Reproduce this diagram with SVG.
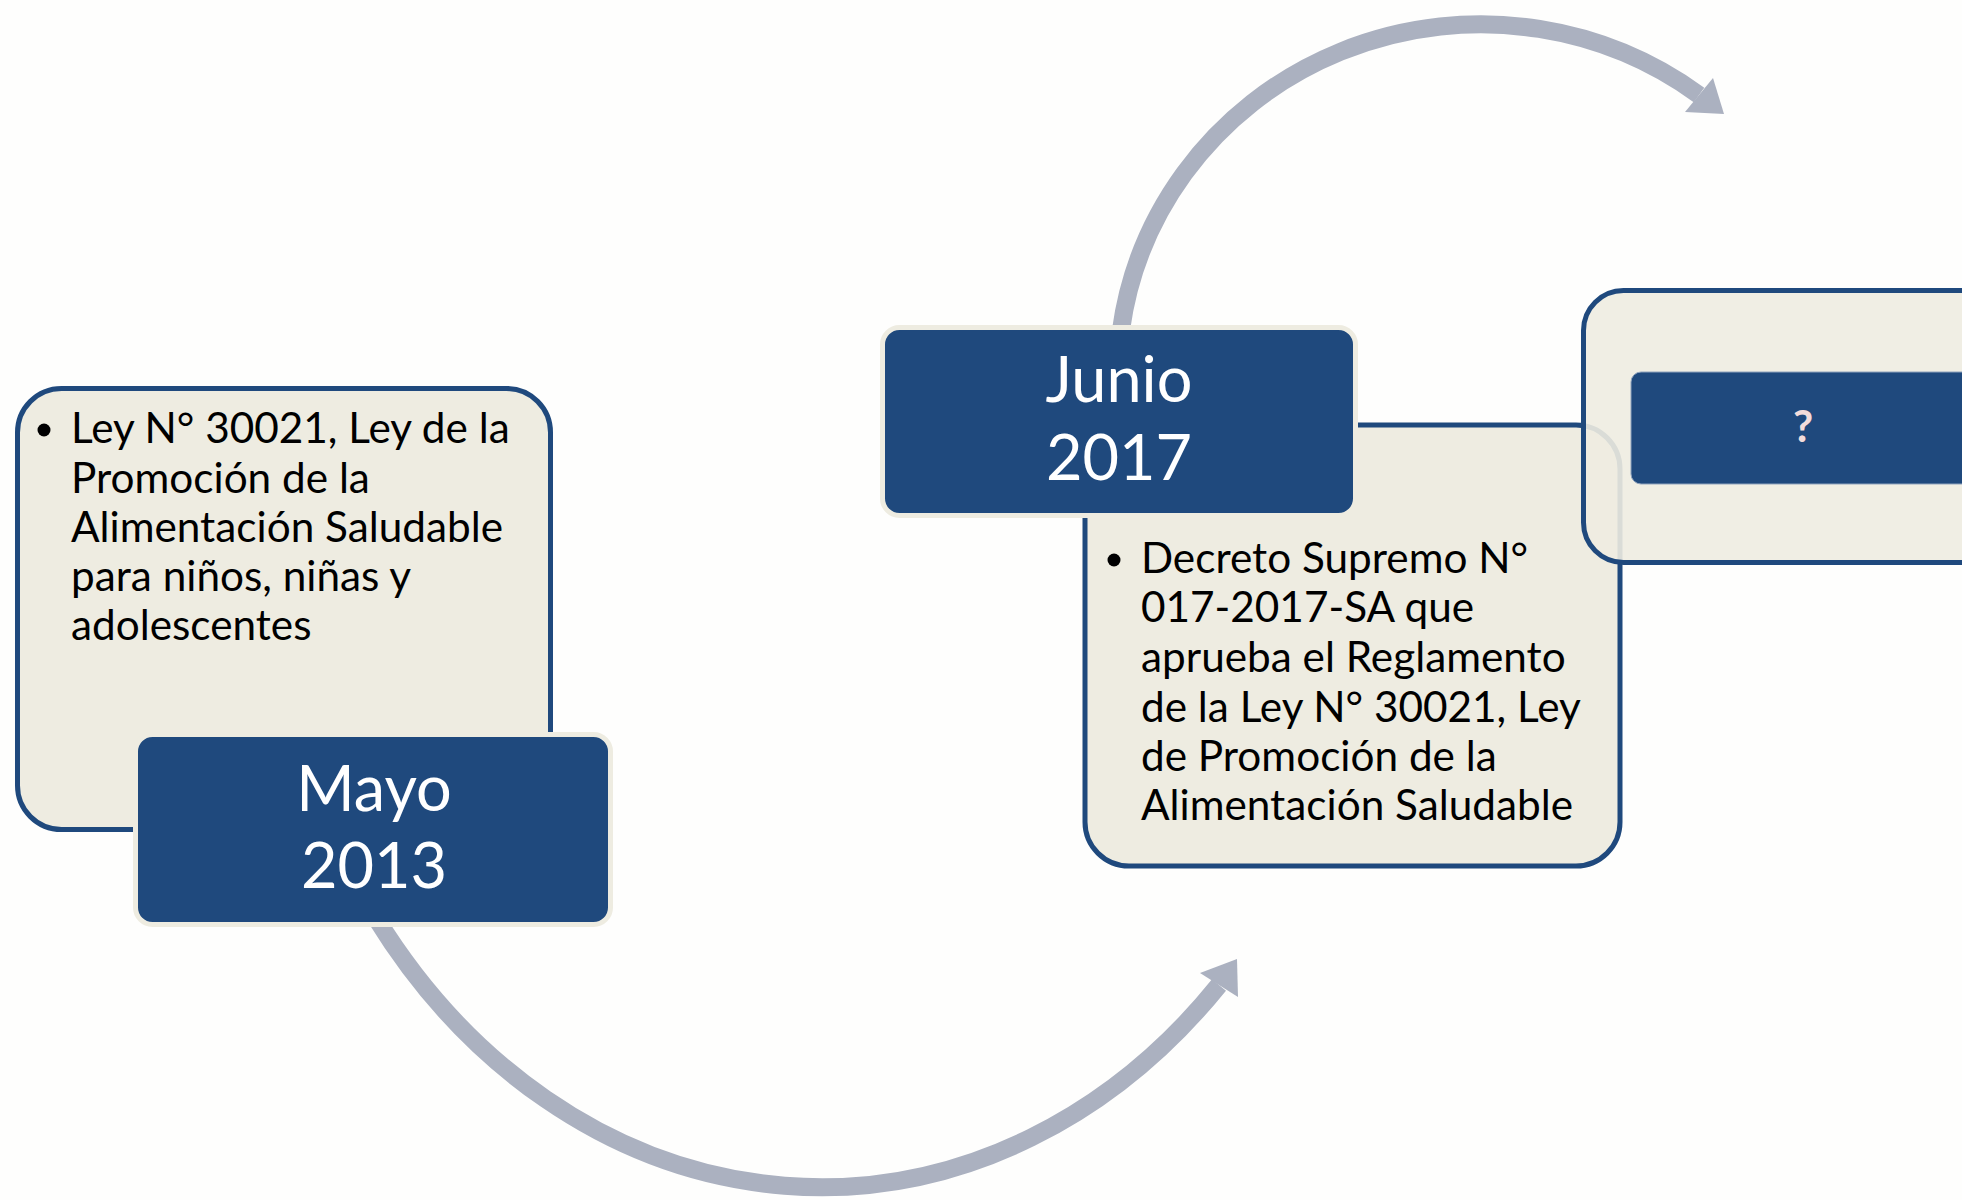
<svg xmlns="http://www.w3.org/2000/svg" width="1962" height="1200" viewBox="0 0 1962 1200">
<style>
.txtbox{fill:#EEECE1;stroke:#1F497D;stroke-width:5}
.datebox{fill:#1F497D;stroke:#EEECE1;stroke-width:5}
.date{font-family:Lato,"Open Sans","Liberation Sans",sans-serif;font-size:63px;fill:#FFFFFF;text-anchor:middle}
.body{font-family:Lato,"Open Sans","Liberation Sans",sans-serif;font-size:42.3px;fill:#000000}
.bullet{fill:#000000}
.arc{fill:none;stroke:#ABB1C0;stroke-width:18}
.head{fill:#ABB1C0}
</style>
<rect x="0" y="0" width="1962" height="1200" fill="#FEFEFD"/>
<g id="connectors">
  <path class="arc" d="M376,918 A554,665 0 0 0 1219,985"/>
  <polygon class="head" points="1237,959 1200,973 1238,997"/>
  <path class="arc" d="M1121,330 A363,352 0 0 1 1699,95"/>
  <polygon class="head" points="1724,114 1685,112 1713,78"/>
</g>
<g id="node-2013">
  <rect class="txtbox" x="17.5" y="388.5" width="533" height="441" rx="44" ry="44"/>
  <circle class="bullet" cx="44" cy="430" r="6.5"/>
  <text class="body">
    <tspan x="71" y="443">Ley N° 30021, Ley de la</tspan>
    <tspan x="71" y="492.5">Promoción de la</tspan>
    <tspan x="71" y="542">Alimentación Saludable</tspan>
    <tspan x="71" y="591">para niños, niñas y</tspan>
    <tspan x="71" y="640">adolescentes</tspan>
  </text>
  <rect class="datebox" x="135.5" y="734.5" width="475" height="190" rx="17" ry="17"/>
  <text class="date" x="374" y="811">Mayo</text>
  <text class="date" x="374" y="888">2013</text>
</g>
<g id="node-2017">
  <rect class="txtbox" x="1085" y="425" width="535" height="441" rx="44" ry="44"/>
  <circle class="bullet" cx="1114" cy="560" r="6.5"/>
  <text class="body">
    <tspan x="1141" y="573">Decreto Supremo N°</tspan>
    <tspan x="1141" y="622">017-2017-SA que</tspan>
    <tspan x="1141" y="672">aprueba el Reglamento</tspan>
    <tspan x="1141" y="722">de la Ley N° 30021, Ley</tspan>
    <tspan x="1141" y="771">de Promoción de la</tspan>
    <tspan x="1141" y="820">Alimentación Saludable</tspan>
  </text>
  <rect class="datebox" x="882.5" y="327.5" width="473" height="188" rx="17" ry="17"/>
  <text class="date" x="1119" y="402">Junio</text>
  <text class="date" x="1119" y="480">2017</text>
</g>
<g id="node-unknown">
  <rect x="1583.5" y="290.5" width="500" height="272" rx="40" ry="40" fill="#EEECE1" fill-opacity="0.9" stroke="#1F497D" stroke-width="5"/>
  <rect x="1631" y="372" width="400" height="112" rx="10" ry="10" fill="#1F497D" stroke="#8FA3BD" stroke-width="1"/>
  <text x="1803" y="442" font-family="Lato,'Open Sans','Liberation Sans',sans-serif" font-size="44" font-weight="bold" fill="#F2DCDB" text-anchor="middle">?</text>
</g>
</svg>
